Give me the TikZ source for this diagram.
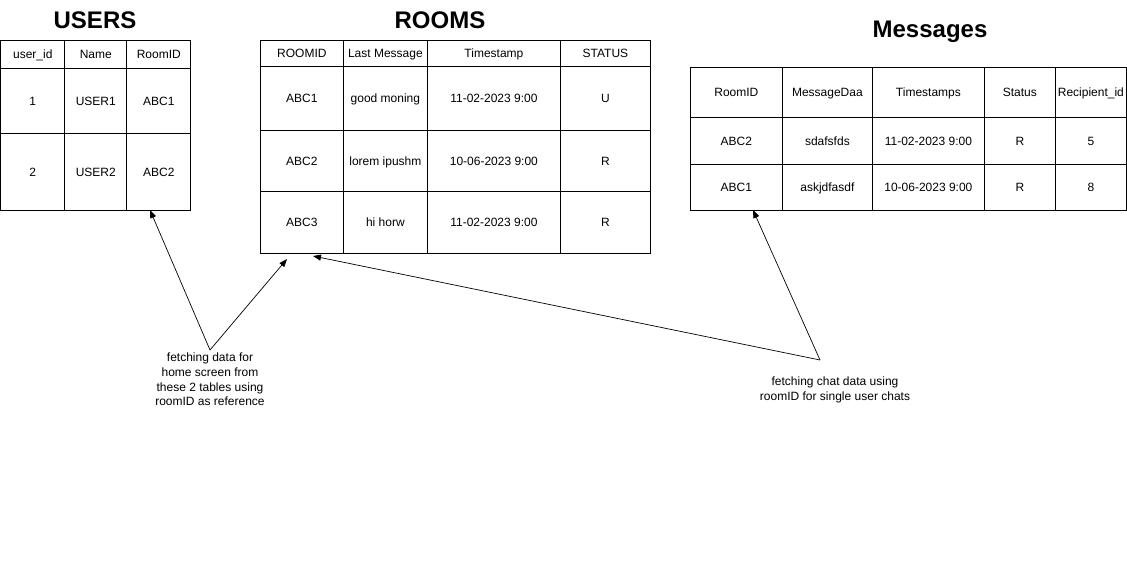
\documentclass[tikz,border=0pt]{standalone}
\usepackage{fontspec}
\setmainfont{Liberation Sans}
\usetikzlibrary{matrix,arrows.meta}

\tikzset{
  tbl/.style={matrix of nodes, anchor=north west, inner sep=0pt, outer sep=0pt,
    column sep=-0.8pt, row sep=-0.8pt,
    nodes={draw, line width=0.8pt, inner sep=0pt, outer sep=0pt, anchor=center,
      text height=9.5pt, text depth=1pt,
      font=\fontsize{12}{14}\selectfont}},
  title/.style={font=\fontsize{24}{28}\selectfont\bfseries},
  note/.style={align=center, inner sep=0pt, font=\fontsize{12}{14.6}\selectfont},
  link/.style={-{Triangle[length=8pt,width=6pt]}, line width=0.7pt},
}

\begin{document}
\begin{tikzpicture}[x=1pt,y=-1pt]
  \useasboundingbox[fill=white] (0,0) rectangle (1127,578);
  % titles
  \node[title] (usersT) at (95,20)  {USERS};
  \node[title] (roomsT) at (440,20) {ROOMS};
  \node[title] (msgT)   at (930,32) {Messages};
  % USERS table
  \matrix (users) [tbl,
    column 1/.style={nodes={minimum width=64}},
    column 2/.style={nodes={minimum width=62}},
    column 3/.style={nodes={minimum width=64}},
    row 1/.style={nodes={minimum height=28}},
    row 2/.style={nodes={minimum height=65}},
    row 3/.style={nodes={minimum height=77}}] at (0.4,40) {
    user\_id & Name  & RoomID \\
    1        & USER1 & ABC1   \\
    2        & USER2 & ABC2   \\
  };
  % ROOMS table
  \matrix (rooms) [tbl,
    column 1/.style={nodes={minimum width=83}},
    column 2/.style={nodes={minimum width=84}},
    column 3/.style={nodes={minimum width=133}},
    column 4/.style={nodes={minimum width=90}},
    row 1/.style={nodes={minimum height=26}},
    row 2/.style={nodes={minimum height=64}},
    row 3/.style={nodes={minimum height=61}},
    row 4/.style={nodes={minimum height=62}}] at (260,40) {
    ROOMID & Last Message  & Timestamp       & STATUS \\
    ABC1   & good moning   & 11-02-2023 9:00 & U      \\
    ABC2   & lorem ipushm  & 10-06-2023 9:00 & R      \\
    ABC3   & hi horw       & 11-02-2023 9:00 & R      \\
  };
  % Messages table
  \matrix (msgs) [tbl,
    column 1/.style={nodes={minimum width=92}},
    column 2/.style={nodes={minimum width=90}},
    column 3/.style={nodes={minimum width=112}},
    column 4/.style={nodes={minimum width=71}},
    column 5/.style={nodes={minimum width=71}},
    row 1/.style={nodes={minimum height=50}},
    row 2/.style={nodes={minimum height=47}},
    row 3/.style={nodes={minimum height=46}}] at (690,67) {
    RoomID & MessageDaa & Timestamps      & Status & Recipient\_id \\
    ABC2   & sdafsfds   & 11-02-2023 9:00 & R      & 5            \\
    ABC1   & askjdfasdf & 10-06-2023 9:00 & R      & 8            \\
  };
  % notes
  \node[note,anchor=north] (homeN) at (210,353)
    {fetching data for\\home screen from\\these 2 tables using\\roomID as reference};
  \node[note,anchor=north] (chatN) at (835,377)
    {fetching chat data using\\roomID for single user chats};
  % arrow ends
  \coordinate (home)   at (210,350);
  \coordinate (chat)   at (820,360);
  \coordinate (usrEnd) at (150,210);
  \coordinate (romEnd) at (287,259);
  \coordinate (romEnd2) at (313,256);
  \coordinate (msgEnd) at (753,210);
  \draw[link] (home) -- (usrEnd);
  \draw[link] (home) -- (romEnd);
  \draw[link] (chat) -- (romEnd2);
  \draw[link] (chat) -- (msgEnd);
\end{tikzpicture}
\end{document}
